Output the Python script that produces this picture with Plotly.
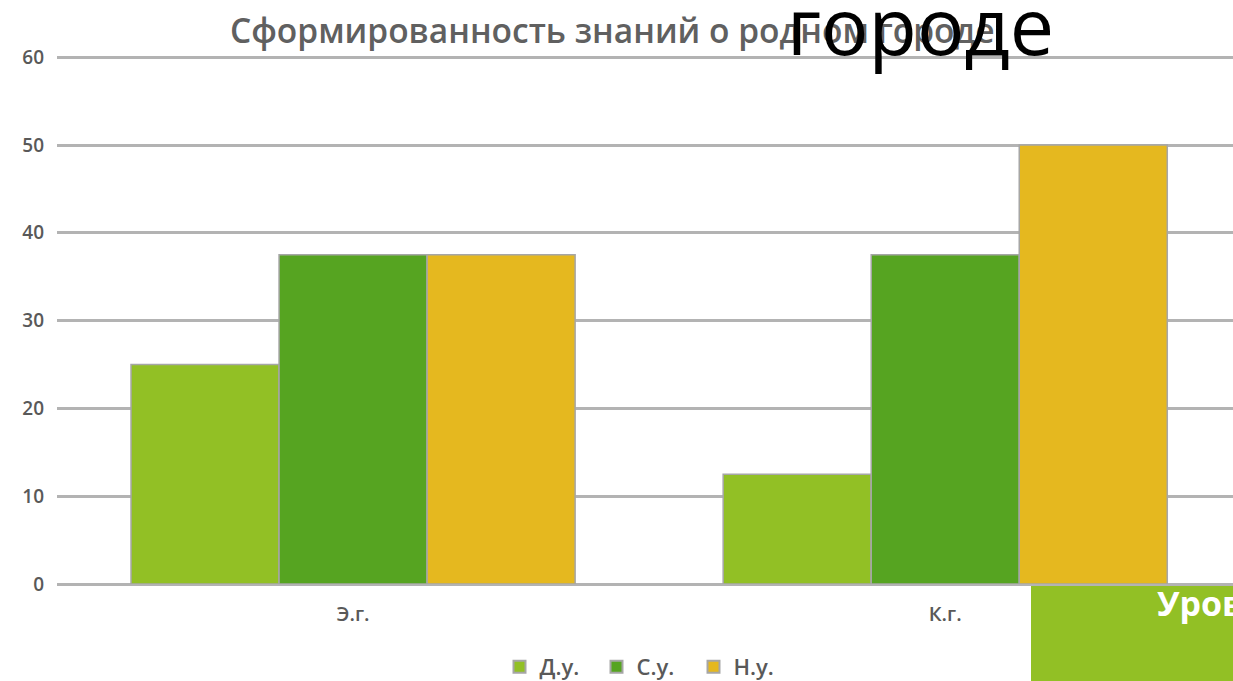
import plotly.graph_objects as go

categories = ["Э.г.", "К.г."]
series_names = ["Д.у.", "С.у.", "Н.у."]
du_values = [25, 12.5]
su_values = [37.5, 37.5]
nu_values = [37.5, 50]
colors = ["#92C025", "#56A421", "#E5B81F"]
y_ticks = [0, 10, 20, 30, 40, 50, 60]

W, H = 1233, 681
L, R, T, B = 57, 0, 55, 97
pw, ph = W - L - R, H - T - B

fig = go.Figure()
for name, vals, col in zip(series_names, [du_values, su_values, nu_values], colors):
    fig.add_trace(go.Bar(
        x=categories, y=vals, name=name,
        marker=dict(color=col, line=dict(color="#A6A6A6", width=1.5)),
    ))

def px_x(x):
    return (x - L) / pw

def px_y(y):
    return (H - B - y) / ph

fig.update_layout(
    width=W, height=H,
    margin=dict(l=L, r=R, t=T, b=B, pad=0, autoexpand=False),
    paper_bgcolor="white", plot_bgcolor="white",
    barmode="group", bargap=0.25, bargroupgap=0,
    font=dict(family="Open Sans, DejaVu Sans, sans-serif", color="#595959"),
    showlegend=True,
    legend=dict(orientation="h", xref="container", yref="container",
                x=645 / W, xanchor="center", y=(H - 667) / H, yanchor="middle",
                font=dict(size=22, color="#595959", weight=600), itemwidth=30,
                entrywidth=52, entrywidthmode="pixels",
                traceorder="normal", itemsizing="constant"),
    xaxis=dict(range=[-0.5, 1.486], showgrid=False, zeroline=False, showline=False,
               automargin=False, ticks="", ticklabelstandoff=16,
               tickfont=dict(size=20, color="#595959", weight=600)),
    yaxis=dict(range=[0, 60.25], tickvals=y_ticks, showgrid=True, gridcolor="#B3B3B3",
               gridwidth=2.5, zeroline=True, zerolinecolor="#B3B3B3", zerolinewidth=2.5,
               showline=False, automargin=False, ticks="", ticklabelstandoff=12,
               tickfont=dict(size=19, color="#595959", weight=600)),
)

# Title
fig.add_annotation(text="Сформированность знаний о родном городе", xref="paper", yref="paper",
                   x=px_x(612), y=px_y(30), xanchor="center", yanchor="middle", showarrow=False,
                   font=dict(size=33.5, color="#606060", family="Open Sans, DejaVu Sans", weight=600))

# Overlay large black word
fig.add_annotation(text="городе", xref="paper", yref="paper",
                   x=px_x(920), y=px_y(24), xanchor="center", yanchor="middle", showarrow=False,
                   font=dict(size=79, color="black", family="Open Sans, DejaVu Sans"))

# Green box bottom right
fig.add_shape(type="rect", xref="paper", yref="paper",
              x0=px_x(1031), x1=px_x(1240), y0=px_y(586), y1=px_y(690),
              fillcolor="#92C025", line=dict(width=0), layer="above")
fig.add_annotation(text="Уров", xref="paper", yref="paper",
                   x=px_x(1155), y=px_y(603), xanchor="left", yanchor="middle", showarrow=False,
                   font=dict(size=34, color="white", family="Open Sans, DejaVu Sans", weight=700))

fig.write_html("out.html", config={"displayModeBar": False},
               post_script="document.body.style.margin='0';document.body.style.overflow='hidden';")
